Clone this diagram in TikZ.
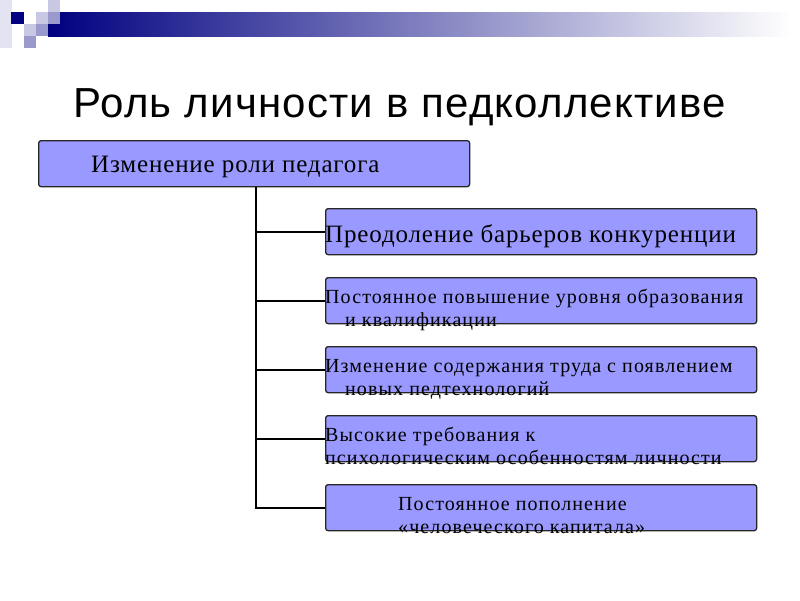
\documentclass[tikz,border=0pt]{standalone}
\usepackage{fontspec}
\setmainfont{Liberation Serif}
\newfontfamily\titlefont[LetterSpace=2.9]{Liberation Sans}
\newfontfamily\smallfont[LetterSpace=5.5]{Liberation Serif}
\newfontfamily\bigfont[LetterSpace=3.4]{Liberation Serif}
\definecolor{navy}{HTML}{000080}
\definecolor{sqlight}{HTML}{C8C8E4}
\definecolor{sqmid}{HTML}{9999CC}
\definecolor{boxfill}{HTML}{9999FF}
\begin{document}
\begin{tikzpicture}[x=1pt,y=-1pt,
  box/.style={draw=black!85, line width=1.3pt, fill=boxfill, rounded corners=2.5pt, inner sep=0pt, minimum width=431pt, minimum height=46pt, anchor=north west},
  txt/.style={anchor=base west, inner sep=0pt, font=\smallfont\fontsize{20}{23}\selectfont},
  bigtxt/.style={anchor=base west, inner sep=0pt, font=\bigfont\fontsize{25}{28}\selectfont},
  conn/.style={line width=2pt, black}]
\useasboundingbox (0,0) rectangle (800,600);
% decoration
\shade[left color=navy, right color=white] (48,12) rectangle (792,36);
\fill[sqlight!50] (0,0) rectangle (12,48);
\fill[navy] (11,12) rectangle (24,24);
\fill[sqlight] (48,0) rectangle (60,12);
\fill[sqlight] (36,12) rectangle (48,24);
\fill[sqmid] (48,12) rectangle (60,24);
\fill[sqlight] (24,24) rectangle (36,36);
\fill[sqmid] (36,24) rectangle (48,36);
\fill[sqmid] (24,36) rectangle (48,48);
\fill[white] (36,36) rectangle (48,48);
% title
\node[anchor=base west, inner sep=0pt, font=\titlefont\fontsize{42}{48}\selectfont] (title) at (73,117) {Роль личности в педколлективе};
% main box
\node[box] (main) at (38,140) {};
\node[bigtxt] (maint) at (91,172) {Изменение роли педагога};
% right boxes
\node[box] (b1) at (325,208) {};
\node[box] (b2) at (325,277) {};
\node[box] (b3) at (325,346) {};
\node[box] (b4) at (325,415) {};
\node[box] (b5) at (325,484) {};
\node[bigtxt] (t1) at (325,242) {Преодоление барьеров конкуренции};
\node[txt] (t2a) at (325,303) {Постоянное повышение уровня образования};
\node[txt] (t2b) at (345,326.5) {и квалификации};
\node[txt] (t3a) at (325,372) {Изменение содержания труда с появлением};
\node[txt] (t3b) at (345,395.5) {новых педтехнологий};
\node[txt] (t4a) at (325,441) {Высокие требования к};
\node[txt] (t4b) at (325,464.5) {психологическим особенностям личности};
\node[txt] (t5a) at (398,510) {Постоянное пополнение};
\node[txt] (t5b) at (398,533.5) {«человеческого капитала»};
% connectors
\coordinate (tx) at (256,0);
\draw[conn] (main.south -| tx) -- (b5.west -| tx) -- (b5.west);
\foreach \b in {b1,b2,b3,b4}{\draw[conn] (\b.west -| tx) -- (\b.west);}
\end{tikzpicture}
\end{document}
